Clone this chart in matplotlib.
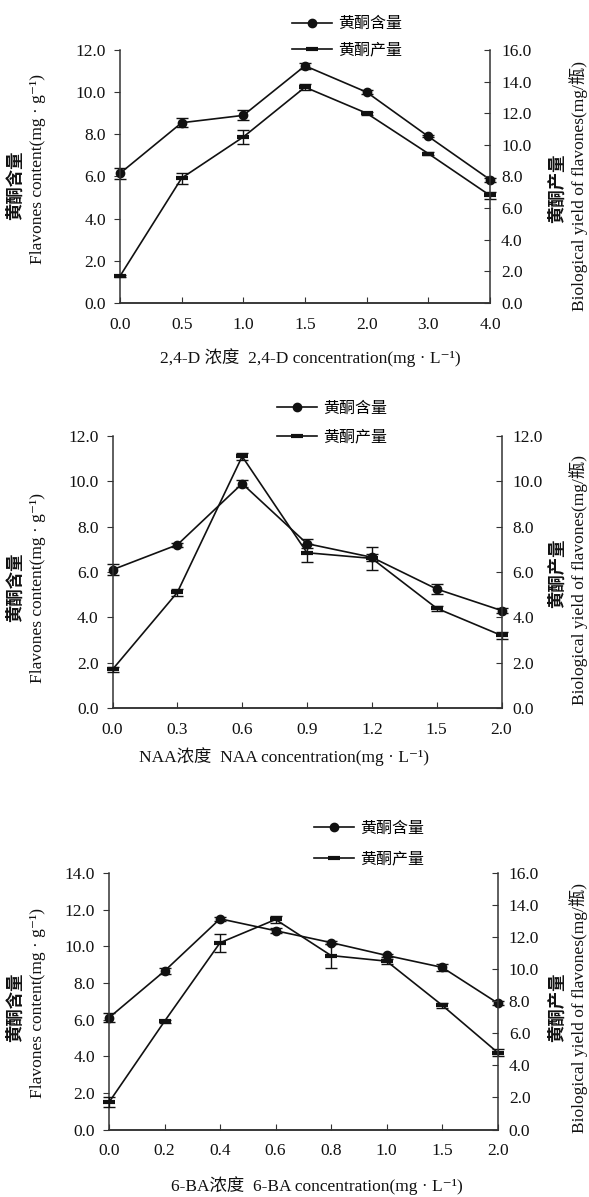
import matplotlib.pyplot as plt
import numpy as np
from matplotlib.ticker import FormatStrFormatter

plt.rcParams['font.family'] = ['Liberation Serif', 'Noto Sans CJK SC', 'DejaVu Serif']
plt.rcParams['axes.linewidth'] = 1.1

W, H = 589, 1197

# 2,4-D
d24_x = ['0.0', '0.5', '1.0', '1.5', '2.0', '3.0', '4.0']
d24_teor = [6.15, 8.55, 8.9, 11.25, 10.0, 7.9, 5.85]
d24_teor_err = [0.25, 0.22, 0.24, 0.14, 0.1, 0.05, 0.1]
d24_prod = [1.7, 7.9, 10.5, 13.65, 12.0, 9.45, 6.8]
d24_prod_err = [0.05, 0.35, 0.47, 0.2, 0.1, 0.1, 0.2]

# NAA
naa_x = ['0.0', '0.3', '0.6', '0.9', '1.2', '1.5', '2.0']
naa_teor = [6.1, 7.2, 9.9, 7.25, 6.65, 5.25, 4.3]
naa_teor_err = [0.25, 0.1, 0.15, 0.2, 0.15, 0.2, 0.1]
naa_prod = [1.7, 5.1, 11.1, 6.85, 6.6, 4.4, 3.2]
naa_prod_err = [0.1, 0.15, 0.15, 0.4, 0.5, 0.1, 0.15]

# 6-BA
ba_x = ['0.0', '0.2', '0.4', '0.6', '0.8', '1.0', '1.5', '2.0']
ba_teor = [6.1, 8.65, 11.5, 10.85, 10.2, 9.5, 8.85, 6.9]
ba_teor_err = [0.25, 0.15, 0.1, 0.15, 0.1, 0.1, 0.2, 0.1]
ba_prod = [1.7, 6.75, 11.65, 13.1, 10.85, 10.5, 7.75, 4.8]
ba_prod_err = [0.3, 0.1, 0.55, 0.2, 0.75, 0.15, 0.15, 0.2]

COR = '#111111'
CJK = 'Noto Sans CJK SC'


def px(x, y):
    return x / W, 1 - y / H


fig = plt.figure(figsize=(W / 100, H / 100), dpi=100)


def painel(caixa, rotulos, teor, teor_err, prod, prod_err, lmax, rmax,
           leg_pos, leg_esp, xlabel, xlabel_pos, yl_pos, yr_pos):
    l, t, r, b = caixa
    ax = fig.add_axes([l / W, 1 - b / H, (r - l) / W, (b - t) / H])
    x = np.arange(len(rotulos))

    ax.errorbar(x, teor, yerr=teor_err, fmt='none', ecolor=COR, elinewidth=1,
                capsize=4, capthick=1, clip_on=False)
    l1, = ax.plot(x, teor, color=COR, lw=1.2, marker='o', ms=6, clip_on=False)

    ax2 = ax.twinx()
    ax2.errorbar(x, prod, yerr=prod_err, fmt='none', ecolor=COR, elinewidth=1,
                 capsize=4, capthick=1, clip_on=False)
    l2, = ax2.plot(x, prod, color=COR, lw=1.2, marker='_', ms=9, mew=3,
                   clip_on=False)

    ax.set_xlim(0, len(rotulos) - 1)
    ax.set_xticks(x, rotulos)
    ax.set_ylim(0, lmax)
    ax.set_yticks(np.arange(0, lmax + 0.1, 2))
    ax2.set_ylim(0, rmax)
    ax2.set_yticks(np.arange(0, rmax + 0.1, 2))
    ax.yaxis.set_major_formatter(FormatStrFormatter('%.1f'))
    ax2.yaxis.set_major_formatter(FormatStrFormatter('%.1f'))

    for a in (ax, ax2):
        a.spines['top'].set_visible(False)
        for s in a.spines.values():
            s.set_color('#333333')
    ax.spines['right'].set_visible(False)
    ax2.spines['left'].set_visible(False)

    ax.tick_params(axis='x', direction='in', length=4, pad=10, labelsize=12.5,
                   colors='#333333', labelcolor=COR)
    ax.tick_params(axis='y', direction='out', length=4, pad=6, labelsize=12.5,
                   colors='#333333', labelcolor=COR)
    ax2.tick_params(axis='y', direction='in', length=4, pad=8, labelsize=12.5,
                    colors='#333333', labelcolor=COR)

    ax2.legend([l1, l2], ['黄酮含量', '黄酮产量'], loc='center left',
               bbox_to_anchor=px(*leg_pos), bbox_transform=fig.transFigure,
               frameon=False, prop={'family': CJK, 'size': 11.5},
               handlelength=2.5, handletextpad=0.4, labelspacing=leg_esp,
               borderpad=0, borderaxespad=0, numpoints=1)

    fig.text(*px(*xlabel_pos), xlabel, ha='center', va='center', fontsize=12.5, color=COR)
    fig.text(*px(15, yl_pos[0]), '黄酮含量', rotation=90, ha='center', va='center',
             family=CJK, fontsize=12.5, fontweight='bold', color=COR)
    fig.text(*px(38, yl_pos[1]), 'Flavones content(mg · g⁻¹)', rotation=90,
             ha='center', va='center', fontsize=12.5, color=COR)
    fig.text(*px(557, yr_pos[0]), '黄酮产量', rotation=90, ha='center', va='center',
             family=CJK, fontsize=12.5, fontweight='bold', color=COR)
    fig.text(*px(579, yr_pos[1]), 'Biological yield of flavones(mg/瓶)', rotation=90,
             ha='center', va='center', fontsize=12.5, color=COR)


painel((120, 50, 490, 303), d24_x, d24_teor, d24_teor_err, d24_prod, d24_prod_err,
       12, 16, (292, 37), 0.6, '2,4-D 浓度  2,4-D concentration(mg · L⁻¹)', (310, 358),
       (185, 169), (188, 186))

painel((112.5, 436, 501.5, 708), naa_x, naa_teor, naa_teor_err, naa_prod, naa_prod_err,
       12, 12, (277, 422.5), 0.75, 'NAA浓度  NAA concentration(mg · L⁻¹)', (284, 757),
       (587, 588), (573, 580))

painel((109, 873, 497.7, 1129.5), ba_x, ba_teor, ba_teor_err, ba_prod, ba_prod_err,
       14, 16, (313.7, 843.5), 0.85, '6-BA浓度  6-BA concentration(mg · L⁻¹)', (317, 1186),
       (1007, 1003), (1007, 1008))

fig.savefig('out.png', dpi=100)
